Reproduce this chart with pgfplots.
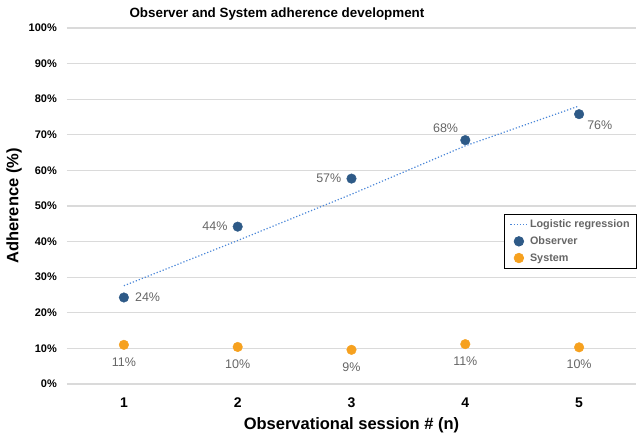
\documentclass[border=0pt]{standalone}
\usepackage{pgfplots}
\pgfplotsset{compat=1.18}
\usepackage{fontspec}
\setmainfont{Liberation Sans}
\definecolor{obs}{HTML}{2E5A87}
\definecolor{sys}{HTML}{F6A11F}
\definecolor{reg}{HTML}{4A86D8}
\definecolor{lbl}{HTML}{666666}
\definecolor{gridc}{HTML}{DADADA}

\begin{document}
\begin{tikzpicture}
\useasboundingbox (-67pt,-55pt) rectangle (576pt,384pt);
\begin{axis}[
  at={(0,0)}, anchor=south west,
  scale only axis, width=569pt, height=356pt,
  xmin=0.5, xmax=5.5, ymin=0, ymax=100,
  xtick={1,2,3,4,5}, ytick={0,10,...,100},
  yticklabel={\pgfmathprintnumber{\tick}\%},
  /pgf/number format/assume math mode=true,
  axis line style={draw=none}, tick style={draw=none},
  ymajorgrids, grid style={gridc, line width=1.1pt},
  yticklabel style={font=\bfseries\fontsize{11}{12}\selectfont, anchor=east, inner sep=0pt, xshift=-10pt},
  xticklabel style={font=\bfseries\fontsize{14}{15}\selectfont, anchor=center, inner sep=0pt, yshift=-19pt},
  xlabel={Observational session \# (n)},
  ylabel={Adherence (\%)},
  every axis x label/.style={at={(rel axis cs:0.5,0)}, anchor=center, yshift=-41pt, font=\bfseries\fontsize{16.5}{18}\selectfont},
  every axis y label/.style={at={(rel axis cs:-0.0931,0.5)}, anchor=center, rotate=90, font=\bfseries\fontsize{16.5}{18}\selectfont},
  clip=false,
  legend style={at={(rel axis cs:1.0018,0.4775)}, anchor=north east, draw=black, line width=0.7pt,
    font=\bfseries\fontsize{10.8}{12}\selectfont, text=lbl, cells={anchor=west},
    row sep=3.5pt, inner xsep=5pt, inner ysep=3.5pt},
  legend cell align=left,
  lab/.style={forget plot, only marks, mark=none, point meta=explicit,
    nodes near coords={\pgfmathprintnumber[fixed,precision=0]{\pgfplotspointmeta}\%},
    nodes near coords style={font=\fontsize{12.5}{14}\selectfont, text=lbl, inner sep=0pt, #1}},
]
\addplot[reg, dotted, line width=1.2pt] coordinates {(1,27.6) (2,40.3) (3,53.3) (4,66.9) (5,78.1)};
\addlegendentry{Logistic regression}
\addplot[only marks, mark=*, mark size=4.8pt, mark options={draw=obs, fill=obs}]
  coordinates {(1,24.3) (2,44.2) (3,57.7) (4,68.5) (5,75.8)};
\addlegendentry{Observer}
\addplot[only marks, mark=*, mark size=4.8pt, mark options={draw=sys, fill=sys}]
  coordinates {(1,11.0) (2,10.4) (3,9.6) (4,11.2) (5,10.3)};
\addlegendentry{System}
% value labels
\addplot[lab={anchor=west, xshift=11pt}] coordinates {(1,24.3) [24]};
\addplot[lab={anchor=east, xshift=-10pt}] coordinates {(2,44.2) [44] (3,57.7) [57]};
\addplot[lab={anchor=east, xshift=-7pt, yshift=12pt}] coordinates {(4,68.5) [68]};
\addplot[lab={anchor=west, xshift=8pt, yshift=-11pt}] coordinates {(5,75.8) [76]};
\addplot[lab={anchor=center, yshift=-17pt}] coordinates {(1,11.0) [11] (2,10.4) [10] (3,9.6) [9] (4,11.2) [11] (5,10.3) [10]};
\node[font=\bfseries\fontsize{13.4}{15}\selectfont, anchor=base, yshift=10pt] at (rel axis cs:0.369,1) {Observer and System adherence development};
\end{axis}
\end{tikzpicture}
\end{document}
